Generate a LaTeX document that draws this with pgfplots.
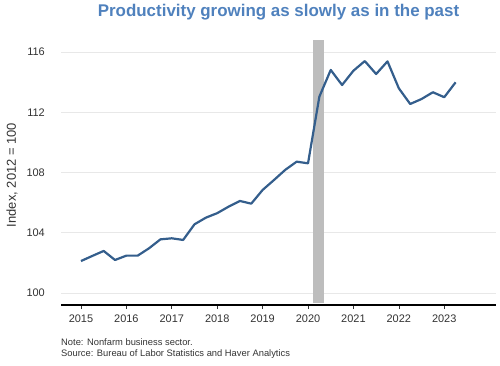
\documentclass[border=0pt]{standalone}
\usepackage{pgfplots}
\pgfplotsset{compat=1.18}
\usepackage{fontspec}
\setmainfont{Liberation Sans}
\definecolor{linec}{RGB}{52,94,140}
\definecolor{titlec}{RGB}{79,129,189}
\definecolor{txt}{RGB}{51,51,51}
\definecolor{gridc}{RGB}{232,232,232}
\definecolor{recc}{RGB}{189,189,189}
\begin{document}
\begin{tikzpicture}[x=1bp,y=1bp]
\useasboundingbox (0,0) rectangle (500,365);
\begin{axis}[
  at={(61bp,60bp)}, anchor=south west,
  scale only axis, width=435bp, height=265bp,
  xmin=2014.56, xmax=2024.14,
  ymin=99.2, ymax=116.8,
  axis x line*=bottom, axis y line*=left,
  y axis line style={draw=none},
  x axis line style={black, line width=1.3bp},
  xtick={2015,2016,...,2023},
  xticklabels={2015,2016,2017,2018,2019,2020,2021,2022,2023},
  ytick={100,104,108,112,116},
  ymajorgrids, grid style={gridc, line width=0.8bp},
  tick align=outside,
  xtick style={txt, line width=0.6bp},
  ytick style={draw=none},
  major tick length=4bp,
  /pgf/number format/assume math mode=true,
  ticklabel style={font=\fontsize{11}{13}\selectfont, text=txt, inner sep=0pt},
  xticklabel style={anchor=north, yshift=-6bp},
  yticklabel style={anchor=east, xshift=-12bp},
  clip=false,
]
\addplot[fill=recc, draw=none] coordinates {(2020.117,99.35) (2020.345,99.35) (2020.345,116.8) (2020.117,116.8)} -- cycle;
\addplot[linec, line width=2.2bp, line join=round] coordinates {
(2015.00,102.12) (2015.25,102.46) (2015.50,102.79) (2015.75,102.19)
(2016.00,102.48) (2016.25,102.48) (2016.50,102.97) (2016.75,103.56)
(2017.00,103.63) (2017.25,103.52) (2017.50,104.56) (2017.75,105.00)
(2018.00,105.30) (2018.25,105.73) (2018.50,106.11) (2018.75,105.93)
(2019.00,106.84) (2019.25,107.50) (2019.50,108.18) (2019.75,108.72)
(2020.00,108.61) (2020.25,113.04) (2020.50,114.81) (2020.75,113.81)
(2021.00,114.76) (2021.25,115.40) (2021.50,114.54) (2021.75,115.38)
(2022.00,113.59) (2022.25,112.55) (2022.50,112.88) (2022.75,113.33)
(2023.00,113.00) (2023.25,113.99)
};
\end{axis}
\node[font=\fontsize{13}{15}\selectfont, text=txt, inner sep=0pt, rotate=90] at (12bp,190bp) {Index, 2012 = 100};
\node[font=\fontsize{17}{19}\bfseries, text=titlec, inner sep=0pt] at (278.5bp,352.5bp) {Productivity growing as slowly as in the past};
\node[font=\fontsize{9.4}{11}\selectfont, text=txt, anchor=north west, inner sep=0pt, align=left] at (61bp,26bp) {Note: Nonfarm business sector.\\Source: Bureau of Labor Statistics and Haver Analytics};
\end{tikzpicture}
\end{document}
